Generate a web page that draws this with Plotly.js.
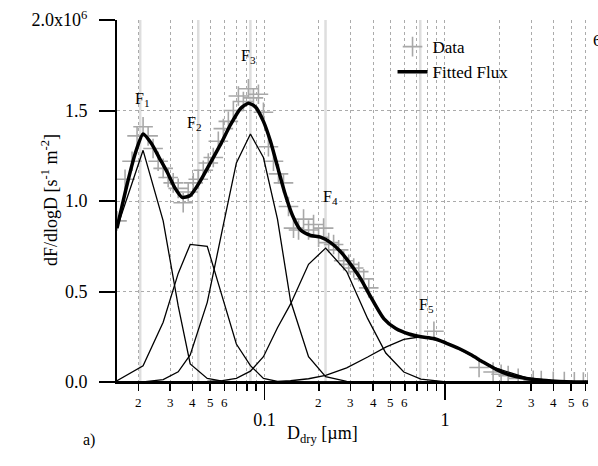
<!DOCTYPE html>
<html>
<head>
<meta charset="utf-8">
<script src="https://cdn.plot.ly/plotly-3.0.1.min.js"></script>
<style>html,body{margin:0;padding:0;background:#fff;}#chart{width:598px;height:466px;}</style>
</head>
<body>
<div id="chart"></div>
<script>
// ---- data (diameters in µm, flux in units of 1e6 s^-1 m^-2) ----
const dataD = [0.01525,0.01690,0.01848,0.01970,0.02127,0.02268,0.02416,0.02577,0.02748,0.02929,0.03123,0.03329,0.03548,0.03783,0.04033,0.04299,0.04583,0.04886,0.05209,0.05553,0.05920,0.06310,0.06727,0.07172,0.07645,0.08150,0.08689,0.09261,0.09873,0.1052,0.1122,0.1196,0.1275,0.1359,0.1449,0.1545,0.1647,0.1755,0.1871,0.1995,0.2127,0.2268,0.2416,0.2577,0.2748,0.2929,0.3123,0.3329,0.3548,0.3783,0.8687,1.545,1.848,2.047,2.239,2.545,3.083,3.415,3.981,4.583,5.208,5.843,6.2];
const dataF = [0.89,1.12,1.22,1.36,1.41,1.36,1.29,1.22,1.18,1.13,1.10,1.07,0.99,1.05,1.10,1.12,1.17,1.21,1.24,1.33,1.40,1.44,1.50,1.58,1.55,1.62,1.57,1.59,1.49,1.30,1.22,1.15,1.10,0.97,0.85,0.84,0.90,0.84,0.87,0.80,0.85,0.77,0.76,0.73,0.67,0.65,0.63,0.61,0.57,0.52,0.28,0.08,0.055,0.043,0.035,0.02,0.01,0.008,0.004,0.002,0.001,0,0];

const fitD = [0.01525,0.01733,0.01920,0.02127,0.02356,0.02610,0.02891,0.03203,0.03503,0.03880,0.04410,0.05012,0.05694,0.06474,0.07356,0.08150,0.08913,0.09873,0.1080,0.1181,0.1292,0.1431,0.1585,0.1801,0.2046,0.2326,0.2643,0.3004,0.3415,0.3880,0.4582,0.5342,0.6310,0.7356,0.8687,1.013,1.196,1.395,1.626,1.920,2.268,2.644,3.204,3.881,4.701,6.2];
const fitF = [0.85,1.09,1.26,1.37,1.32,1.24,1.16,1.07,1.02,1.03,1.11,1.21,1.31,1.42,1.51,1.54,1.52,1.44,1.33,1.19,1.05,0.92,0.84,0.81,0.80,0.77,0.72,0.65,0.57,0.47,0.35,0.295,0.265,0.25,0.24,0.215,0.185,0.15,0.11,0.07,0.04,0.025,0.012,0.006,0.002,0.0];

const modeD = [0.01525,0.02127,0.02748,0.03329,0.03880,0.04822,0.05843,0.06990,0.08363,0.09873,0.1181,0.1394,0.1755,0.2183,0.2855,0.3733,0.4701,0.5919,0.7356,0.9873,1.342,1.920,2.818,4.138,6.2];
const modeF1 = [0.85,1.28,0.89,0.42,0.10,0.02,0.005,0,0,0,0,0,0,0,0,0,0,0,0,0,0,0,0,0,0];
const modeF2 = [0.007,0.09,0.33,0.60,0.76,0.75,0.47,0.21,0.09,0.02,0.003,0,0,0,0,0,0,0,0,0,0,0,0,0,0];
const modeF3 = [0,0.001,0.013,0.056,0.15,0.44,0.84,1.21,1.37,1.24,0.90,0.45,0.14,0.03,0.004,0,0,0,0,0,0,0,0,0,0];
const modeF4 = [0,0,0,0,0,0.003,0.008,0.02,0.06,0.14,0.30,0.43,0.65,0.74,0.61,0.35,0.16,0.055,0.016,0.002,0,0,0,0,0];
const modeF5 = [0,0,0,0,0,0,0,0.0002,0.0006,0.0014,0.003,0.007,0.018,0.037,0.078,0.138,0.193,0.235,0.25,0.224,0.157,0.076,0.024,0.005,0.0007];
const modes = [modeF1, modeF2, modeF3, modeF4, modeF5];

const modeCenters = [0.0205, 0.0430, 0.0836, 0.218, 0.73];
const modeLabels = ['F<sub>1</sub>','F<sub>2</sub>','F<sub>3</sub>','F<sub>4</sub>','F<sub>5</sub>'];

const yTickVals = [0, 0.5, 1.0, 1.5, 2.0];
const yTickText = ['0.0','0.5','1.0','1.5','2.0x10<sup>6</sup>'];
const minorTickVals = [0.02,0.03,0.04,0.05,0.06,0.07,0.08,0.09,0.2,0.3,0.4,0.5,0.6,0.7,0.8,0.9,2,3,4,5,6];
const minorLabelVals = [0.02,0.03,0.04,0.05,0.06,0.2,0.3,0.4,0.5,0.6,2,3,4,5,6];
const minorLabelText = ['2','3','4','5','6','2','3','4','5','6','2','3','4','5','6'];
const majorTickVals = [0.1, 1];
const majorTickText = ['0.1','1'];

const xRange = [Math.log10(0.01525), Math.log10(6.2)];
const FONT = "'Liberation Serif', serif";

const traces = [];
traces.push({
  x: dataD, y: dataF, type: 'scatter', mode: 'markers', name: 'Data',
  marker: {symbol: 'cross-thin', size: 14, color: '#a8a8a8', line: {color: '#a8a8a8', width: 1.6}}
});
modes.forEach(m => traces.push({
  x: modeD, y: m, type: 'scatter', mode: 'lines', showlegend: false,
  line: {color: '#000', width: 1.3}, hoverinfo: 'skip'
}));
traces.push({
  x: fitD, y: fitF, type: 'scatter', mode: 'lines', name: 'Fitted Flux',
  line: {color: '#000', width: 3.5, shape: 'spline', smoothing: 0.6}
});

const shapes = modeCenters.map(c => ({
  type: 'line', xref: 'x', yref: 'paper', x0: c, x1: c, y0: 0, y1: 1,
  line: {color: '#dedede', width: 2.5}, layer: 'below'
}));

const labelY = [1.56, 1.43, 1.80, 1.02, 0.42];
const labelX = [0.0210, 0.0410, 0.0820, 0.232, 0.79];
const annotations = modeLabels.map((t, i) => ({
  text: t, x: Math.log10(labelX[i]), y: labelY[i], xref: 'x', yref: 'y',
  showarrow: false, font: {family: FONT, size: 16, color: '#000'}
}));
minorLabelVals.forEach((v, i) => annotations.push({
  text: minorLabelText[i], x: Math.log10(v), y: -(402 - 382) / 362, xref: 'x', yref: 'paper',
  xanchor: 'center', yanchor: 'middle', showarrow: false,
  font: {family: FONT, size: 13, color: '#000'}
}));
annotations.push({text: 'D<sub>dry</sub> [µm]', xref: 'paper', yref: 'paper',
  x: (322 - 117) / 471, y: -(448 - 382) / 362, showarrow: false,
  font: {family: FONT, size: 18, color: '#000'}});
annotations.push({text: 'dF/dlogD [s<sup>-1</sup> m<sup>-2</sup>]', xref: 'paper', yref: 'paper',
  x: (49 - 117) / 471, y: 1 - (200 - 20) / 362, textangle: -90, showarrow: false,
  xanchor: 'center', yanchor: 'middle',
  font: {family: FONT, size: 18, color: '#000'}});
annotations.push({text: 'a)', xref: 'paper', yref: 'paper',
  x: (81 - 117) / 471, y: -(451 - 382) / 362, showarrow: false,
  font: {family: FONT, size: 16, color: '#000'}});
annotations.push({text: '6', xref: 'paper', yref: 'paper',
  x: (591 - 117) / 471, y: 1 + (20 - 29) / 362, xanchor: 'left', showarrow: false,
  font: {family: FONT, size: 17, color: '#000'}});

const layout = {
  width: 598, height: 466,
  margin: {l: 117, r: 10, t: 20, b: 84, pad: 0},
  paper_bgcolor: '#fff', plot_bgcolor: '#fff',
  font: {family: FONT, color: '#000', size: 16},
  showlegend: true,
  legend: {x: 0.585, y: 0.975, xanchor: 'left', yanchor: 'top', bgcolor: 'rgba(0,0,0,0)',
           font: {family: FONT, size: 17, color: '#000'}},
  xaxis: {
    type: 'log', range: xRange, showline: true, linecolor: '#000', linewidth: 2,
    tickmode: 'array', tickvals: majorTickVals, ticktext: majorTickText,
    ticks: 'outside', ticklen: 16, tickwidth: 1.5, tickcolor: '#000',
    tickfont: {family: FONT, size: 18, color: '#000'}, ticklabelstandoff: 4,
    showgrid: true, gridcolor: '#ababab', griddash: 'dot', gridwidth: 1,
    minor: {tickmode: 'array', tickvals: minorTickVals, ticks: 'outside', ticklen: 7,
            tickwidth: 1.5, tickcolor: '#000', showgrid: true, gridcolor: '#ababab',
            griddash: 'dot', gridwidth: 1},
    zeroline: false, fixedrange: true
  },
  yaxis: {
    range: [0, 2.0], showline: true, linecolor: '#000', linewidth: 2,
    tickmode: 'array', tickvals: yTickVals, ticktext: yTickText,
    ticks: 'outside', ticklen: 16, tickwidth: 2, tickcolor: '#000',
    tickfont: {family: FONT, size: 18, color: '#000'}, ticklabelstandoff: 8,
    showgrid: true, gridcolor: '#ababab', griddash: 'dot', gridwidth: 1,
    zeroline: false, fixedrange: true
  },
  shapes: shapes,
  annotations: annotations
};

function serifAll() {
  document.querySelectorAll('#chart svg text').forEach(el => { el.style.fontFamily = FONT; });
}
Plotly.newPlot('chart', traces, layout, {displayModeBar: false, staticPlot: true})
  .then(serifAll).catch(serifAll);
serifAll();
setTimeout(serifAll, 0);
</script>
</body>
</html>
